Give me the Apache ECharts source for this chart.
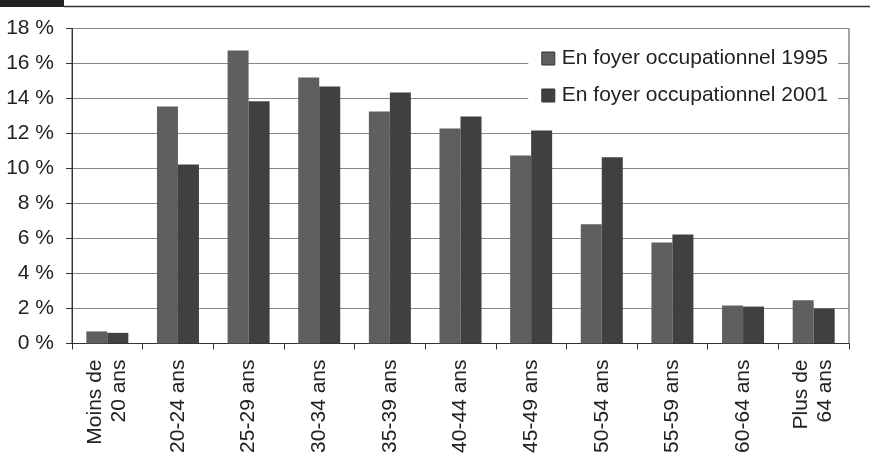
<!DOCTYPE html>
<html>
<head>
<meta charset="utf-8">
<script src="https://cdn.jsdelivr.net/npm/echarts@6/dist/echarts.min.js"></script>
<style>
html,body{margin:0;padding:0;background:#fff;}
#c{width:870px;height:461px;}
</style>
</head>
<body>
<div id="c"></div>
<script>
const categories = ["Moins de\n20 ans","20-24 ans","25-29 ans","30-34 ans","35-39 ans","40-44 ans","45-49 ans","50-54 ans","55-59 ans","60-64 ans","Plus de\n64 ans"];
const series1995 = [0.69, 13.55, 16.75, 15.2, 13.26, 12.29, 10.75, 6.82, 5.77, 2.17, 2.47];
const series2001 = [0.61, 10.23, 13.84, 14.69, 14.34, 12.97, 12.17, 10.65, 6.23, 2.11, 2.0];
const seriesNames = ["En foyer occupationnel 1995", "En foyer occupationnel 2001"];
const yTicks = { min: 0, max: 18, interval: 2 };

const chart = echarts.init(document.getElementById('c'), null, {renderer:'canvas'});
const font = '"Liberation Sans", Arial, sans-serif';
chart.setOption({
  animation: false,
  backgroundColor: '#fff',
  textStyle: { fontFamily: font },
  graphic: [
    { type: 'rect', shape: { x: 0, y: 0, width: 64, height: 7 }, style: { fill: '#222' } },
    { type: 'line', shape: { x1: 64, y1: 6.5, x2: 870, y2: 6.5 }, style: { stroke: '#333', lineWidth: 1.5 } }
  ],
  grid: { left: 72, right: 21, top: 28.5, bottom: 117.5, show: true, borderColor: '#444', borderWidth: 1, backgroundColor: 'transparent' },
  legend: {
    orient: 'vertical',
    right: 32, top: 40,
    padding: [8, 10, 8, 13],
    backgroundColor: '#fff',
    itemWidth: 13, itemHeight: 13, itemGap: 16,
    icon: 'rect',
    itemStyle: { borderColor: '#333', borderWidth: 1 },
    textStyle: { fontSize: 21, color: '#222', fontFamily: font, padding: [0,0,0,2] },
    data: seriesNames
  },
  xAxis: {
    type: 'category',
    data: categories,
    axisLine: { lineStyle: { color: '#333', width: 1 } },
    axisTick: { show: true, length: 6, lineStyle: { color: '#333' } },
    axisLabel: { rotate: 90, fontSize: 21, color: '#222', margin: 16, lineHeight: 24, fontFamily: font, interval: 0 }
  },
  yAxis: {
    type: 'value',
    min: yTicks.min, max: yTicks.max, interval: yTicks.interval,
    axisLine: { show: true, lineStyle: { color: '#333', width: 1 } },
    axisTick: { show: true, length: 6, lineStyle: { color: '#333' } },
    splitLine: { lineStyle: { color: '#888', width: 1.2 } },
    axisLabel: { formatter: '{value} %', fontSize: 21, color: '#222', margin: 18, fontFamily: font }
  },
  series: [
    { name: seriesNames[0], type: 'bar', data: series1995, barWidth: 21, barGap: '0%',
      itemStyle: { color: '#5f5f5f' } },
    { name: seriesNames[1], type: 'bar', data: series2001, barWidth: 21, barGap: '0%',
      itemStyle: { color: '#404040' } }
  ]
});
</script>
</body>
</html>
